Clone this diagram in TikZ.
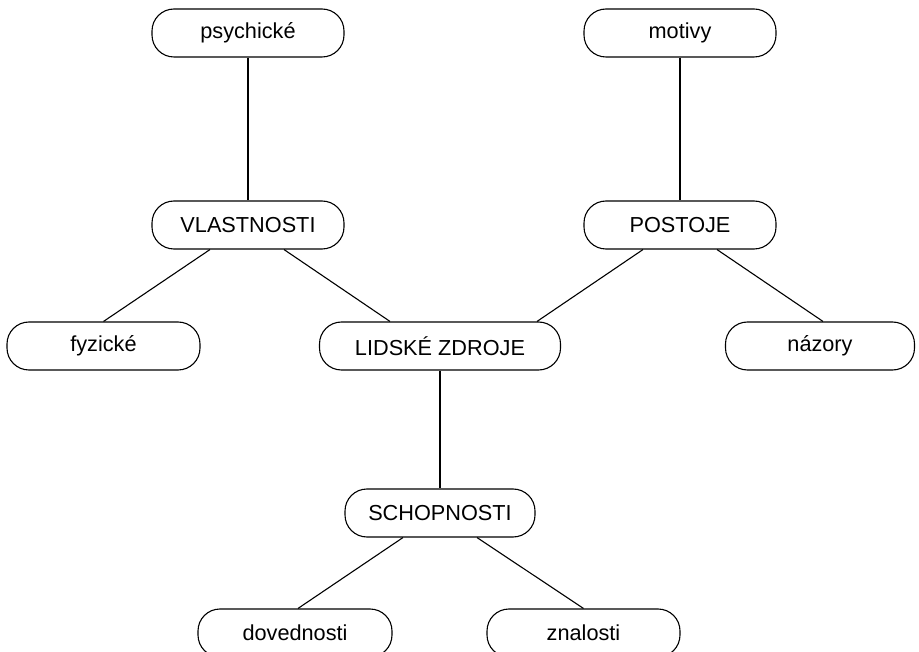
\documentclass[tikz,border=0pt]{standalone}
\usepackage{fontspec}
\setmainfont{Liberation Sans}
\begin{document}
\begin{tikzpicture}[x=1pt,y=1pt,
  box/.style={draw=black, line width=1.1pt, rounded corners=22pt, fill=white,
    minimum width=192pt, minimum height=48pt, inner sep=0pt,
    font=\fontsize{21.7}{25}\selectfont},
  link/.style={draw=black, line width=1.1pt}]
\useasboundingbox (0,0) rectangle (919,-652);
\node[box] (ps) at (248,-33) {psychické};
\node[box] (mo) at (680,-33) {motivy};
\node[box] (vl) at (248,-225) {VLASTNOSTI};
\node[box] (po) at (680,-225) {POSTOJE};
\node[box,minimum width=193pt] (fy) at (103.5,-346) {fyzické};
\node[box,minimum width=241pt] (li) at (440,-346) {LIDSKÉ ZDROJE};
\node[box,minimum width=189pt] (na) at (820,-346) {názory};
\node[box,minimum width=190pt] (sc) at (440,-513) {SCHOPNOSTI};
\node[box,minimum width=194pt] (dv) at (295,-633) {dovednosti};
\node[box,minimum width=193pt] (zn) at (583.5,-633) {znalosti};
\draw[link] (ps.south) -- (vl.north);
\draw[link] (mo.south) -- (po.north);
\draw[link] ([xshift=-38pt]vl.south) -- (fy.north);
\draw[link] ([xshift=36pt]vl.south) -- ([xshift=-50pt]li.north);
\draw[link] ([xshift=-37pt]po.south) -- ([xshift=97pt]li.north);
\draw[link] ([xshift=37pt]po.south) -- ([xshift=3pt]na.north);
\draw[link] (li.south) -- (sc.north);
\draw[link] ([xshift=-37pt]sc.south) -- ([xshift=3pt]dv.north);
\draw[link] ([xshift=37pt]sc.south) -- (zn.north);
\end{tikzpicture}
\end{document}
